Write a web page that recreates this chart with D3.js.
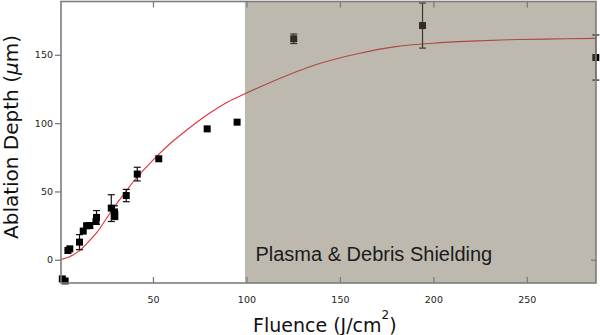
<!DOCTYPE html>
<html>
<head>
<meta charset="utf-8">
<script src="https://cdn.jsdelivr.net/npm/d3@7"></script>
<style>
  body { margin: 0; background: #fff; }
  svg { display: block; }
</style>
</head>
<body>
<div id="chart"></div>
<script>
// measured points (fluence J/cm2, depth um, error bar half height)
var ptsX = [1.5, 3, 4.5, 5.5, 10.7, 12.7, 14.5, 16.2, 19.5, 19.8, 27.7, 29.4, 29.6, 35.7, 41.6, 53.1, 79, 95, 125.3, 194.2, 286.9];
var ptsY = [-14, -15.5, 6.8, 8, 12.9, 21, 24.9, 25, 28, 31, 37.8, 35, 32.4, 47, 62.7, 73.9, 95.8, 100.7, 161.7, 171.4, 148];
var ptsErr = [0, 0, 0, 0, 5.5, 0, 1.5, 2, 0, 5, 9.8, 4.5, 3, 4.5, 5, 0, 0, 0, 3.5, 16.5, 16.5];

// fitted curve
var fitX = [0.8, 5, 10, 15, 20, 25, 30, 35, 40, 50, 60, 70, 80, 90, 100, 120, 140, 160, 180, 200, 220, 240, 260, 287];
var fitY = [0.3, 2, 6, 12.5, 20, 30, 40, 49, 58, 73, 86, 97, 107, 115.5, 122, 134, 144, 151, 156, 158.5, 160, 161, 161.5, 162];

var xTicks = [50, 100, 150, 200, 250];
var yTicks = [0, 50, 100, 150];
var shieldStart = 100;

var margin = { top: 1.5, right: 4, bottom: 52, left: 61 },
    width = 600 - margin.left - margin.right,
    height = 335 - margin.top - margin.bottom;

var svg = d3.select("#chart")
    .append("svg")
    .attr("width", 600)
    .attr("height", 335)
    .append("g")
    .attr("transform", "translate(" + margin.left + "," + margin.top + ")");

var x = d3.scaleLinear().domain([0.8, 287]).range([0, width]);
var y = d3.scaleLinear().domain([-17, 189]).range([height, 0]);

var axisColor = "#7c7c7c";

// fit line
var line = d3.line()
    .x(function (d, i) { return x(fitX[i]); })
    .y(function (d, i) { return y(fitY[i]); })
    .curve(d3.curveCatmullRom);

svg.append("path")
    .datum(fitX)
    .attr("fill", "none")
    .attr("stroke", "#e2323c")
    .attr("stroke-width", 1.1)
    .attr("d", line);

// error bars
var pts = ptsX.map(function (v, i) { return { x: v, y: ptsY[i], e: ptsErr[i] }; });
var withErr = pts.filter(function (d) { return d.e > 0; });

svg.selectAll(".ebar")
    .data(withErr)
    .enter().append("line")
    .attr("x1", function (d) { return x(d.x); })
    .attr("x2", function (d) { return x(d.x); })
    .attr("y1", function (d) { return y(d.y + d.e); })
    .attr("y2", function (d) { return y(d.y - d.e); })
    .attr("stroke", "#111")
    .attr("stroke-width", 1.2);

[1, -1].forEach(function (s) {
    svg.selectAll(".cap" + s)
        .data(withErr)
        .enter().append("line")
        .attr("x1", function (d) { return x(d.x) - 3.5; })
        .attr("x2", function (d) { return x(d.x) + 3.5; })
        .attr("y1", function (d) { return y(d.y + s * d.e); })
        .attr("y2", function (d) { return y(d.y + s * d.e); })
        .attr("stroke", "#111")
        .attr("stroke-width", 1.2);
});

svg.selectAll(".pt")
    .data(pts)
    .enter().append("rect")
    .attr("x", function (d) { return x(d.x) - 3.5; })
    .attr("y", function (d) { return y(d.y) - 3.5; })
    .attr("width", 7)
    .attr("height", 7)
    .attr("fill", "#000");

// shaded region over the data
svg.append("rect")
    .attr("x", x(shieldStart) - 1.5)
    .attr("y", 0)
    .attr("width", width - x(shieldStart) + 1.5)
    .attr("height", height)
    .attr("fill", "#6f644e")
    .attr("fill-opacity", 0.45);

svg.append("text")
    .attr("x", x(shieldStart) + 9)
    .attr("y", 260.5 - margin.top)
    .attr("fill", "#1b1b1b")
    .style("font-family", "Liberation Sans, Arial, sans-serif")
    .style("font-size", "20px")
    .text("Plasma & Debris Shielding");

// frame
svg.append("rect")
    .attr("x", 0).attr("y", 0)
    .attr("width", width).attr("height", height)
    .attr("fill", "none")
    .attr("stroke", axisColor)
    .attr("stroke-width", 1.6);

// bottom axis, ticks pointing in
var xAxis = svg.append("g")
    .attr("transform", "translate(0," + height + ")")
    .call(d3.axisBottom(x).tickValues(xTicks).tickSize(-6).tickPadding(13));

// top ticks
svg.append("g")
    .call(d3.axisTop(x).tickValues(xTicks).tickSize(-6).tickFormat(""));

// left axis, ticks pointing out
var yAxis = svg.append("g")
    .call(d3.axisLeft(y).tickValues(yTicks).tickSize(6).tickPadding(2));

// right tick at zero
svg.append("g")
    .attr("transform", "translate(" + width + ",0)")
    .call(d3.axisRight(y).tickValues([0]).tickSize(-5).tickFormat(""));

svg.selectAll(".domain").remove();
svg.selectAll(".tick line").attr("stroke", axisColor).attr("stroke-width", 1.3);
svg.selectAll(".tick text")
    .attr("fill", "#222")
    .style("font-family", "DejaVu Sans, sans-serif")
    .style("font-size", "9.5px");

// axis titles
var xLabel = svg.append("text")
    .attr("x", 253 - margin.left)
    .attr("y", 331.5 - margin.top)
    .attr("fill", "#111")
    .style("font-family", "DejaVu Sans, sans-serif")
    .style("font-size", "19px");
xLabel.append("tspan").text("Fluence (J/cm");
xLabel.append("tspan").attr("dy", -13).style("font-size", "12px").text("2");
xLabel.append("tspan").attr("dy", 13).text(")");

var yLabel = svg.append("text")
    .attr("transform", "translate(" + (17.5 - margin.left) + "," + (137 - margin.top) + ") rotate(-90)")
    .attr("text-anchor", "middle")
    .attr("fill", "#111")
    .style("font-family", "DejaVu Sans, sans-serif")
    .style("font-size", "20px");
yLabel.append("tspan").text("Ablation Depth (");
yLabel.append("tspan").style("font-style", "italic").text("\u03bc");
yLabel.append("tspan").text("m)");
</script>
</body>
</html>
